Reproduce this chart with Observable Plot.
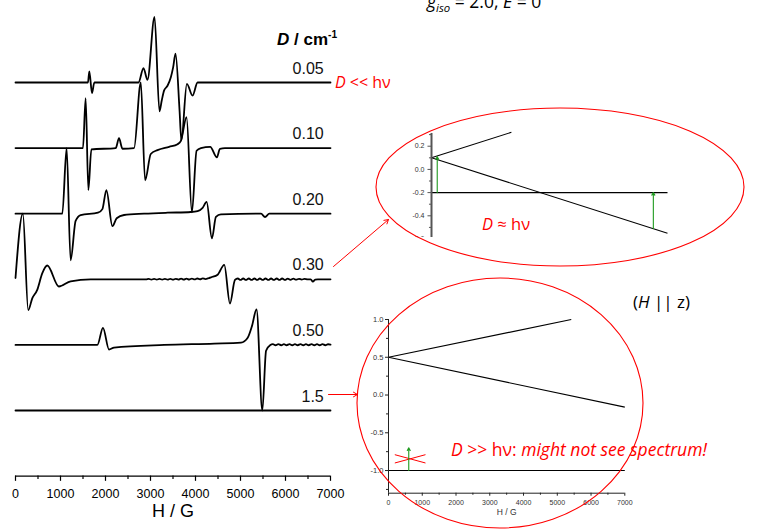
<!DOCTYPE html>
<html><head><meta charset="utf-8">
<script src="https://cdn.jsdelivr.net/npm/d3@7"></script>
<script src="https://cdn.jsdelivr.net/npm/@observablehq/plot@0.6"></script>
<style>
html,body{margin:0;padding:0;background:#fff;}
#root{position:relative;width:764px;height:530px;overflow:hidden;background:#fff;}
.layer{position:absolute;left:0;top:0;}
</style></head><body><div id="root"></div>
<script>
// ---------- DATA ----------
// Main EPR spectra: [H (G), relative amplitude above baseline]
const trace005 = [[0,0],[1610,0],[1641,0.17],[1699,-0.16],[1753,0],[2733,0],[2844,0.22],[2933,0.04],[3089,1.0],[3200,-0.44],[3251,-0.27],[3303,-0.12],[3378,-0.05],[3452,0.08],[3503,0.23],[3556,0.44],[3646,-0.43],[3686,-0.88],[3808,-0.02],[3935,-0.20],[4046,0],[7000,0]];
const trace010 = [[0,0],[1499,0],[1559,0.76],[1619,-0.64],[1686,-0.02],[2227,0],[2300,0.15],[2376,-0.01],[2635,0],[2784,1.0],[2880,-0.49],[3006,-0.09],[3156,-0.03],[3414,0.02],[3601,0.06],[3675,0.11],[3801,0.47],[3920,-0.98],[4024,-0.04],[4120,0],[4327,0.02],[4476,-0.14],[4543,-0.01],[4654,0],[7000,0]];
const trace020 = [[0,0],[1040,0],[1136,1.0],[1225,-0.71],[1336,-0.11],[1448,-0.02],[1833,0.015],[1931,0.07],[2020,0.36],[2153,-0.19],[2249,-0.07],[2412,-0.02],[2857,0],[3378,0.015],[3897,0.026],[4046,0.04],[4158,0.09],[4247,0.18],[4365,-0.375],[4454,-0.05],[4565,-0.01],[5456,0],[5545,-0.05],[5641,0],[7000,0]];
const trace030 = [[0,0.02],[163,1.0],[283,-0.47],[372,-0.29],[483,-0.16],[594,0.09],[706,0.21],[964,-0.11],[1225,-0.03],[1670,0],[2900,0],
  [2960,0.006],[3020,-0.005],[3080,0.006],[3140,-0.005],[3200,0.007],[3260,-0.005],[3320,0.007],[3380,-0.005],[3440,0.008],[3500,-0.005],[3560,0.008],[3620,-0.004],[3680,0.009],[3740,-0.004],[3800,0.010],[3860,-0.003],[3920,0.011],[3980,-0.002],[4040,0.012],[4100,0.0],[4160,0.014],[4220,0.004],[4290,0.016],[4343,0.03],
  [4492,0.07],[4639,0.22],[4766,-0.37],[4877,-0.01],
  [4940,0.012],[5000,-0.010],[5060,0.012],[5120,-0.010],[5185,0.012],[5245,-0.010],[5310,0.012],[5370,-0.010],[5430,0.012],[5495,-0.010],[5555,0.012],[5620,-0.010],[5680,0.012],[5740,-0.010],[5805,0.012],[5865,-0.010],[5925,0.012],[5990,-0.010],[6050,0.011],[6110,-0.008],[6175,0.010],[6235,-0.006],[6300,0.008],[6360,-0.004],[6420,0.005],[6490,0],[6560,0],[6608,-0.036],[6660,-0.004],[6719,0],[7000,0]];
const trace050 = [[0,0],[1819,0],[1944,0.26],[2078,-0.07],[2189,-0.04],[3303,0],[4416,0.02],[5011,0.035],[5160,0.11],[5256,0.29],[5356,0.54],[5485,-1.0],[5568,-0.09],[5663,0],
  [5720,0.013],[5780,-0.005],[5840,0.013],[5905,-0.005],[5965,0.013],[6025,-0.005],[6090,0.013],[6150,-0.005],[6210,0.013],[6270,-0.005],[6335,0.013],[6395,-0.005],[6455,0.013],[6515,-0.005],[6580,0.013],[6640,-0.005],[6700,0.013],[6760,-0.005],[6820,0.013],[6885,-0.005],[6945,0.010],[7000,0.003]];
const trace15 = [[0,0],[7000,0]];
const dLabels = ["0.05","0.10","0.20","0.30","0.50","1.5"];
const dOffsets = [5,4,3,2,1,0];
const dTraces = [trace005, trace010, trace020, trace030, trace050, trace15];
const xMajor = [0,1000,2000,3000,4000,5000,6000,7000];
const xMinor = [500,1500,2500,3500,4500,5500,6500];

// Inset A (D ≈ hν): energy levels (cm-1) vs H (G)
const levelsA = [{h1:0,e1:0.10,h2:2370,e2:0.32},{h1:0,e1:0.10,h2:7000,e2:-0.55},{h1:0,e1:-0.20,h2:7000,e2:-0.20}];
const transA = [{h:170,e1:-0.20,e2:0.11},{h:6580,e1:-0.51,e2:-0.20}];
const yMajorA = [-0.6,-0.4,-0.2,0.0,0.2];
const yMinorA = [-0.5,-0.3,-0.1,0.1,0.3];

// Inset B (D >> hν)
const levelsB = [{h1:0,e1:0.5,h2:5414,e2:1.0},{h1:0,e1:0.5,h2:7000,e2:-0.16},{h1:0,e1:-1.0,h2:7000,e2:-1.0}];
const transB = [{h:600,e1:-1.0,e2:-0.70}];
const crossB = [{h1:187,e1:-0.79,h2:1096,e2:-0.90},{h1:187,e1:-0.90,h2:1096,e2:-0.79}];
const yMajorB = [-1.0,-0.5,0.0,0.5,1.0];
const yMinorB = [-1.25,-0.75,-0.25,0.25,0.75];
const xMajorB = [0,1000,2000,3000,4000,5000,6000,7000];
const xMinorB = [500,1500,2500,3500,4500,5500,6500];

// ---------- LAYOUT (annotation geometry in page pixels) ----------
const notes = {
  ellipses: [{cx:560, cy:187, rx:184, ry:79}, {cx:500, cy:403, rx:143, ry:125}],
  arrows: [{x1:333, y1:266, x2:388, y2:219}, {x1:328, y1:394, x2:357, y2:394}],
  texts: [
    {x:427, y:8.3, size:17.5, fill:"#000", parts:[{t:"g",i:1},{t:"iso",i:1,shift:3.4,scale:0.65},{t:" = 2.0, "},{t:"E",i:1},{t:" = 0"}]},
    {x:277, y:45, size:17, fill:"#000", weight:"bold", family:"'Liberation Sans', Arial, sans-serif", parts:[{t:"D",i:1},{t:" / cm"},{t:"-1",shift:-7,scale:0.6}]},
    {x:335, y:88, size:16, fill:"#f00", parts:[{t:"D",i:1},{t:" << hν"}]},
    {x:482, y:230, size:16.5, fill:"#f00", parts:[{t:"D",i:1},{t:" ≈ hν"}]},
    {x:451, y:455.7, size:17.5, fill:"#f00", parts:[{t:"D",i:1},{t:" >> hν: "},{t:"might not see spectrum!",i:1}]},
    {x:633, y:308, size:17, fill:"#000", parts:[{t:"("},{t:"H",i:1},{t:" || z)"}]}
  ]
};

const root = document.getElementById("root");
const sansMain = "'Liberation Sans', Arial, sans-serif";
const slideFont = "'Open Sans', 'Noto Sans', sans-serif";

// ---------- MAIN CHART ----------
const rows = dTraces.flatMap((pts, k) => pts.map(([h, a]) => ({D: dLabels[k], H: h, y: dOffsets[k] + a})));
const labelRows = dLabels.map((l, k) => ({label: l, offset: dOffsets[k]}));
const main = Plot.plot({
  width: 764, height: 530,
  marginLeft: 15, marginRight: 434, marginTop: 0, marginBottom: 54,
  x: {domain: [0, 7000], range: [15, 330], axis: null},
  y: {domain: [0, 5], range: [410, 82], axis: null},
  style: {background: "none", fontFamily: sansMain, overflow: "visible"},
  marks: [
    Plot.line(rows, {x: "H", y: "y", z: "D", curve: "monotone-x", stroke: "#000", strokeWidth: 1.8}),
    Plot.ruleY([-1], {x1: 0, x2: 7000, stroke: "#000", strokeWidth: 1.3}),
    Plot.ruleX(xMajor, {x: d => d, y1: -1, y2: -1.08, stroke: "#000", strokeWidth: 1.2}),
    Plot.ruleX(xMinor, {x: d => d, y1: -1, y2: -1.05, stroke: "#000", strokeWidth: 1.2}),
    Plot.text(xMajor, {x: d => d, y: -1, dy: 18, text: d => String(d), fontSize: 12.5, fill: "#000"}),
    Plot.text(["H / G"], {x: 3500, y: -1, dy: 35, text: d => d, fontSize: 18, fill: "#000"}),
    Plot.text(labelRows, {x: 6850, y: "offset", dy: -9, text: "label", textAnchor: "end", lineAnchor: "bottom", fontSize: 16, fill: "#111"})
  ]
});
main.classList.add("layer");
root.appendChild(main);

// ---------- INSET A ----------
function wrap(node, left, top, w, h) {
  const d = document.createElement("div");
  d.style.cssText = `position:absolute;left:${left}px;top:${top}px;width:${w}px;height:${h}px;overflow:hidden;`;
  d.appendChild(node);
  root.appendChild(d);
}
const insetA = Plot.plot({
  width: 280, height: 112, margin: 0,
  x: {domain: [0, 7000], range: [36, 272], axis: null},
  y: {domain: [-0.6, 0.32], range: [113.5, 6.8], axis: null},
  style: {background: "none", fontFamily: sansMain, overflow: "visible"},
  marks: [
    Plot.link(levelsA, {x1: "h1", y1: "e1", x2: "h2", y2: "e2", stroke: "#000", strokeWidth: 1.1}),
    Plot.arrow(transA, {x1: "h", x2: "h", y1: "e1", y2: "e2", stroke: "#1f9a1f", strokeWidth: 1.1, headLength: 4}),
    Plot.ruleX([0], {y1: -0.6, y2: 0.31, stroke: "#555", strokeWidth: 2}),
    Plot.ruleY(yMajorA, {y: d => d, x1: -104, x2: 0, stroke: "#555"}),
    Plot.ruleY(yMinorA, {y: d => d, x1: -60, x2: 0, stroke: "#555"}),
    Plot.text(yMajorA, {x: 0, y: d => d, dx: -7, text: d => d.toFixed(1), textAnchor: "end", fontSize: 7, fill: "#333"})
  ]
});
wrap(insetA, 395, 125, 280, 112);

// ---------- INSET B ----------
const insetB = Plot.plot({
  width: 320, height: 228, margin: 0,
  x: {domain: [0, 7000], range: [48, 284.3], axis: null},
  y: {domain: [-1.3, 1.0], range: [192.7, 19], axis: null},
  style: {background: "none", fontFamily: sansMain, overflow: "visible"},
  marks: [
    Plot.link(levelsB, {x1: "h1", y1: "e1", x2: "h2", y2: "e2", stroke: "#000", strokeWidth: 1.1}),
    Plot.link(crossB, {x1: "h1", y1: "e1", x2: "h2", y2: "e2", stroke: "#f00", strokeWidth: 1}),
    Plot.arrow(transB, {x1: "h", x2: "h", y1: "e1", y2: "e2", stroke: "#1f9a1f", strokeWidth: 1.1, headLength: 4}),
    Plot.ruleX([0], {y1: -1.3, y2: 1.0, stroke: "#222", strokeWidth: 1}),
    Plot.ruleY([-1.3], {x1: 0, x2: 7000, stroke: "#222", strokeWidth: 1}),
    Plot.ruleY(yMajorB, {y: d => d, x1: -89, x2: 0, stroke: "#222"}),
    Plot.ruleY(yMinorB, {y: d => d, x1: -59, x2: 0, stroke: "#222"}),
    Plot.ruleX(xMajorB, {x: d => d, y1: -1.3, y2: -1.34, stroke: "#222"}),
    Plot.ruleX(xMinorB, {x: d => d, y1: -1.3, y2: -1.327, stroke: "#222"}),
    Plot.text(yMajorB, {x: 0, y: d => d, dx: -5, text: d => d.toFixed(1), textAnchor: "end", fontSize: 7.5, fill: "#333"}),
    Plot.text(xMajorB, {x: d => d, y: -1.3, dy: 10, text: d => String(d), fontSize: 7, fill: "#333"}),
    Plot.text(["H / G"], {x: 3500, y: -1.3, dy: 19, text: d => d, fontSize: 8.5, fill: "#333"})
  ]
});
wrap(insetB, 340, 300, 320, 228);

// ---------- ANNOTATION OVERLAY ----------
function ellipseMark(list) {
  return (index, scales) => {
    const sx = scales && scales.x ? scales.x : v => v;
    const sy = scales && scales.y ? scales.y : v => v;
    const g = d3.create("svg:g");
    for (const e of list) {
      g.append("ellipse").attr("cx", sx(e.cx)).attr("cy", sy(e.cy))
        .attr("rx", e.rx).attr("ry", e.ry)
        .attr("fill", "none").attr("stroke", "#f00").attr("stroke-width", 1.1);
    }
    return g.node();
  };
}
function richText(list) {
  return (index, scales) => {
    const sx = scales && scales.x ? scales.x : v => v;
    const sy = scales && scales.y ? scales.y : v => v;
    const g = d3.create("svg:g").attr("text-anchor", "start");
    for (const it of list) {
      const t = g.append("text").attr("x", sx(it.x)).attr("y", sy(it.y))
        .attr("text-anchor", "start")
        .attr("font-size", it.size).attr("fill", it.fill)
        .attr("font-family", it.family || slideFont)
        .attr("font-weight", it.weight || "normal")
        .style("white-space", "pre");
      let cur = 0;
      for (const p of it.parts) {
        const s = p.shift || 0;
        const ts = t.append("tspan").text(p.t).attr("dy", s - cur);
        cur = s;
        if (p.i) ts.attr("font-style", "italic");
        if (p.scale) ts.attr("font-size", it.size * p.scale);
      }
    }
    return g.node();
  };
}
const overlay = Plot.plot({
  width: 764, height: 530, margin: 0,
  x: {domain: [0, 764], range: [0, 764], axis: null},
  y: {domain: [0, 530], range: [0, 530], axis: null},
  style: {background: "none", overflow: "visible"},
  marks: [
    ellipseMark(notes.ellipses),
    Plot.arrow(notes.arrows, {x1: "x1", y1: "y1", x2: "x2", y2: "y2", stroke: "#f00", strokeWidth: 1, headLength: 7}),
    richText(notes.texts)
  ]
});
overlay.classList.add("layer");
overlay.style.pointerEvents = "none";
root.appendChild(overlay);
</script></body></html>
